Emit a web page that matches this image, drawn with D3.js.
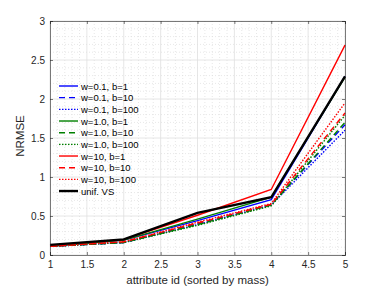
<!DOCTYPE html>
<html>
<head>
<meta charset="utf-8">
<script src="https://cdn.jsdelivr.net/npm/d3@7"></script>
<style>
  body { margin: 0; background: #fff; }
  text { font-family: "Liberation Sans", Arial, sans-serif; }
</style>
</head>
<body>
<div id="chart"></div>
<script>
/* CONSTANTS AND GLOBALS */
const width = 382, height = 287,
  margin = {top: 21, bottom: 32, left: 50, right: 37},
  innerWidth = width - margin.left - margin.right,
  innerHeight = height - margin.top - margin.bottom;

/* DATA */
const attributeIds = [1, 2, 3, 4, 5];
const xTicks = [1, 1.5, 2, 2.5, 3, 3.5, 4, 4.5, 5];
const yTicks = [0, 0.5, 1, 1.5, 2, 2.5, 3];

const seriesNames = ["w=0.1, b=1", "w=0.1, b=10", "w=0.1, b=100",
  "w=1.0, b=1", "w=1.0, b=10", "w=1.0, b=100",
  "w=10, b=1", "w=10, b=10", "w=10, b=100", "unif. VS"];
const seriesColors = ["#0000ff", "#0000ff", "#0000ff",
  "#008000", "#008000", "#008000",
  "#ff0000", "#ff0000", "#ff0000", "#000000"];
const seriesDash = ["", "6,4", "1.5,1.5", "", "6,4", "1.5,1.5", "", "6,4", "1.5,1.5", ""];

const w01b1   = [0.11, 0.19, 0.44, 0.71, 2.29];
const w01b10  = [0.11, 0.16, 0.40, 0.65, 1.67];
const w01b100 = [0.11, 0.16, 0.39, 0.64, 1.60];
const w1b1    = [0.11, 0.19, 0.46, 0.74, 2.28];
const w1b10   = [0.11, 0.16, 0.39, 0.64, 1.70];
const w1b100  = [0.11, 0.16, 0.38, 0.63, 1.79];
const w10b1   = [0.12, 0.20, 0.51, 0.84, 2.69];
const w10b10  = [0.11, 0.17, 0.41, 0.65, 1.82];
const w10b100 = [0.11, 0.17, 0.42, 0.66, 1.95];
const unifVS  = [0.13, 0.20, 0.54, 0.74, 2.29];

const seriesValues = [w01b1, w01b10, w01b100, w1b1, w1b10, w1b100, w10b1, w10b10, w10b100, unifVS];

/* SCALES */
const xScale = d3.scaleLinear().domain([1, 5]).range([0, innerWidth]);
const yScale = d3.scaleLinear().domain([0, 3]).range([innerHeight, 0]);

/* ELEMENTS */
const svg = d3.select("#chart").append("svg")
  .attr("width", width).attr("height", height)
  .append("g")
  .attr("transform", `translate(${margin.left},${margin.top})`);

// minor grid (dotted)
const minorX = d3.range(1, 5.0001, 0.1).filter(v => Math.abs(v * 2 - Math.round(v * 2)) > 1e-6);
const minorY = d3.range(0, 3.0001, 0.1).filter(v => Math.abs(v * 2 - Math.round(v * 2)) > 1e-6);

svg.selectAll("line.minor-x").data(minorX).join("line")
  .attr("class", "minor-x")
  .attr("x1", d => xScale(d)).attr("x2", d => xScale(d))
  .attr("y1", 0).attr("y2", innerHeight)
  .attr("stroke", "#d6d6d6").attr("stroke-width", 0.6)
  .attr("stroke-dasharray", "1,2");
svg.selectAll("line.minor-y").data(minorY).join("line")
  .attr("class", "minor-y")
  .attr("y1", d => yScale(d)).attr("y2", d => yScale(d))
  .attr("x1", 0).attr("x2", innerWidth)
  .attr("stroke", "#d6d6d6").attr("stroke-width", 0.6)
  .attr("stroke-dasharray", "1,2");

// major grid
svg.selectAll("line.major-x").data(xTicks).join("line")
  .attr("class", "major-x")
  .attr("x1", d => xScale(d)).attr("x2", d => xScale(d))
  .attr("y1", 0).attr("y2", innerHeight)
  .attr("stroke", "#e0e0e0").attr("stroke-width", 0.8);
svg.selectAll("line.major-y").data(yTicks).join("line")
  .attr("class", "major-y")
  .attr("y1", d => yScale(d)).attr("y2", d => yScale(d))
  .attr("x1", 0).attr("x2", innerWidth)
  .attr("stroke", "#e0e0e0").attr("stroke-width", 0.8);

// lines
const line = d3.line()
  .x((d, i) => xScale(attributeIds[i]))
  .y(d => yScale(d));

svg.selectAll("path.series").data(seriesValues).join("path")
  .attr("class", "series")
  .attr("d", line)
  .attr("fill", "none")
  .attr("stroke", (d, i) => seriesColors[i])
  .attr("stroke-width", (d, i) => i === 9 ? 2.4 : 1.4)
  .attr("stroke-dasharray", (d, i) => seriesDash[i]);

// axes
svg.append("g")
  .attr("transform", `translate(0,${innerHeight})`)
  .call(d3.axisBottom(xScale).tickValues(xTicks).tickSize(-3).tickPadding(6).tickFormat(d3.format("")));
svg.append("g")
  .call(d3.axisLeft(yScale).tickValues(yTicks).tickSize(-3).tickPadding(5).tickFormat(d3.format("")));
svg.append("g")
  .attr("transform", `translate(${innerWidth},0)`)
  .call(d3.axisRight(yScale).tickValues(yTicks).tickSize(-3).tickFormat(""));
svg.append("g")
  .call(d3.axisTop(xScale).tickValues(xTicks).tickSize(-3).tickFormat(""));

svg.selectAll(".domain").attr("stroke", "#262626").attr("stroke-width", 0.6);
svg.selectAll(".tick line").attr("stroke", "#262626").attr("stroke-width", 0.6);
svg.selectAll(".tick text").attr("fill", "#262626").attr("font-size", "10px")
  .style("font-family", "'Liberation Sans', Arial, sans-serif");

// axis labels
svg.append("text")
  .attr("x", innerWidth / 2).attr("y", innerHeight + 29)
  .attr("text-anchor", "middle")
  .attr("font-size", "11.5px").attr("fill", "#262626")
  .text("attribute id (sorted by mass)");
svg.append("text")
  .attr("transform", `translate(${-26},${innerHeight / 2 - 2}) rotate(-90)`)
  .attr("text-anchor", "middle")
  .attr("font-size", "11.5px").attr("fill", "#262626")
  .text("NRMSE");

// legend
const legend = svg.append("g").attr("transform", `translate(${9},${65})`);
const rowH = 11.67;
const items = legend.selectAll("g.item").data(seriesNames).join("g")
  .attr("class", "item")
  .attr("transform", (d, i) => `translate(0,${i * rowH})`);
items.append("line")
  .attr("x1", 0).attr("x2", 19).attr("y1", 0).attr("y2", 0)
  .attr("stroke", (d, i) => seriesColors[i])
  .attr("stroke-width", (d, i) => i === 9 ? 2.4 : 1.4)
  .attr("stroke-dasharray", (d, i) => seriesDash[i]);
items.append("text")
  .attr("x", 22).attr("y", 3.5)
  .attr("font-size", "9.5px").attr("fill", "#000")
  .text(d => d);
</script>
</body>
</html>
